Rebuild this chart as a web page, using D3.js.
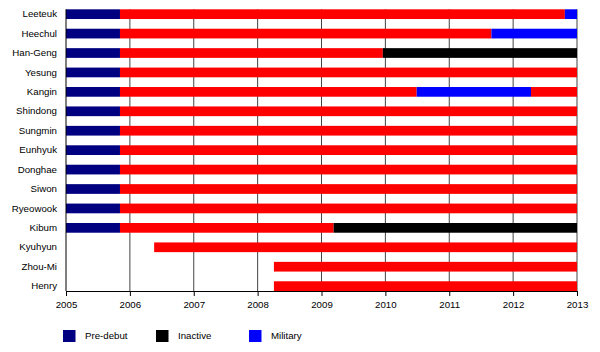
<!DOCTYPE html>
<html lang="en">
<head>
    <meta charset="UTF-8">
    <title>Super Junior member timeline</title>
    <style>
        body { margin: 0; background: #fff; }
        svg text { font-family: "Liberation Sans", Arial, sans-serif; font-size: 9.7px; fill: #000; }
        .grid line { stroke: #444; stroke-width: 1px; }
        .axis path, .axis line { stroke: #000; }
    </style>
</head>
<body>
    <svg id="chart" width="600" height="352"></svg>

    <script src="https://d3js.org/d3.v7.min.js"></script>
    <script>
        // --- Data ---
        const members = ["Leeteuk", "Heechul", "Han-Geng", "Yesung", "Kangin", "Shindong", "Sungmin",
            "Eunhyuk", "Donghae", "Siwon", "Ryeowook", "Kibum", "Kyuhyun", "Zhou-Mi", "Henry"];

        // breakpoints (decimal years) and the phase between each pair
        const breaks = [
            [2005, 2005.845, 2012.81, 2013],
            [2005, 2005.845, 2011.66, 2013],
            [2005, 2005.845, 2009.96, 2013],
            [2005, 2005.845, 2013],
            [2005, 2005.845, 2010.49, 2012.28, 2013],
            [2005, 2005.845, 2013],
            [2005, 2005.845, 2013],
            [2005, 2005.845, 2013],
            [2005, 2005.845, 2013],
            [2005, 2005.845, 2013],
            [2005, 2005.845, 2013],
            [2005, 2005.845, 2009.19, 2013],
            [2006.38, 2013],
            [2008.255, 2013],
            [2008.255, 2013]
        ];
        const phases = [
            ["Pre-debut", "Active", "Military"],
            ["Pre-debut", "Active", "Military"],
            ["Pre-debut", "Active", "Inactive"],
            ["Pre-debut", "Active"],
            ["Pre-debut", "Active", "Military", "Active"],
            ["Pre-debut", "Active"],
            ["Pre-debut", "Active"],
            ["Pre-debut", "Active"],
            ["Pre-debut", "Active"],
            ["Pre-debut", "Active"],
            ["Pre-debut", "Active"],
            ["Pre-debut", "Active", "Inactive"],
            ["Active"],
            ["Active"],
            ["Active"]
        ];
        const years = [2005, 2006, 2007, 2008, 2009, 2010, 2011, 2012, 2013];
        const legendItems = ["Pre-debut", "Inactive", "Military"];

        const phaseColor = d3.scaleOrdinal()
            .domain(["Pre-debut", "Active", "Inactive", "Military"])
            .range(["#000080", "#ff0000", "#000000", "#0000ff"]);

        // flatten into segments
        const segments = [];
        members.forEach((m, i) => {
            phases[i].forEach((p, j) => {
                segments.push({ member: m, phase: p, start: breaks[i][j], end: breaks[i][j + 1] });
            });
        });

        // --- Chart ---
        const svg = d3.select("#chart");
        const x = d3.scaleLinear().domain([2005, 2013]).range([66, 577]);
        const y = d3.scaleBand().domain(members).range([9.3, 291]).paddingInner(0.5).paddingOuter(0);

        // vertical gridlines
        svg.append("g").attr("class", "grid")
            .selectAll("line")
            .data(years.slice(1))
            .join("line")
            .attr("x1", d => x(d)).attr("x2", d => x(d))
            .attr("y1", y.range()[0]).attr("y2", y.range()[1]);

        // bars
        svg.append("g")
            .selectAll("rect")
            .data(segments)
            .join("rect")
            .attr("x", d => x(d.start))
            .attr("width", d => x(d.end) - x(d.start))
            .attr("y", d => y(d.member))
            .attr("height", y.bandwidth())
            .attr("fill", d => phaseColor(d.phase));

        // x axis
        svg.append("g")
            .attr("class", "axis")
            .attr("transform", `translate(0,${y.range()[1]})`)
            .call(d3.axisBottom(x).tickValues(years).tickFormat(d3.format("d")).tickSize(5).tickSizeOuter(0))
            .call(g => g.selectAll("text").attr("dy", "0.95em"));

        // y axis (labels only + line)
        svg.append("g")
            .attr("class", "axis")
            .attr("transform", `translate(${x(2005)},0)`)
            .call(d3.axisLeft(y).tickSize(0).tickSizeOuter(0).tickPadding(9))
            .call(g => g.select(".domain").attr("d", `M0,${y.range()[0]}V${y.range()[1]}`));

        // legend
        const legendX = d3.scalePoint().domain(legendItems).range([63, 249]);
        const legend = svg.append("g")
            .selectAll("g")
            .data(legendItems)
            .join("g")
            .attr("transform", d => `translate(${legendX(d)},330)`);
        legend.append("rect")
            .attr("width", 12.5).attr("height", 12)
            .attr("fill", d => phaseColor(d));
        legend.append("text")
            .attr("x", 22).attr("y", 6).attr("dy", "0.35em")
            .text(d => d);
    </script>
</body>
</html>
